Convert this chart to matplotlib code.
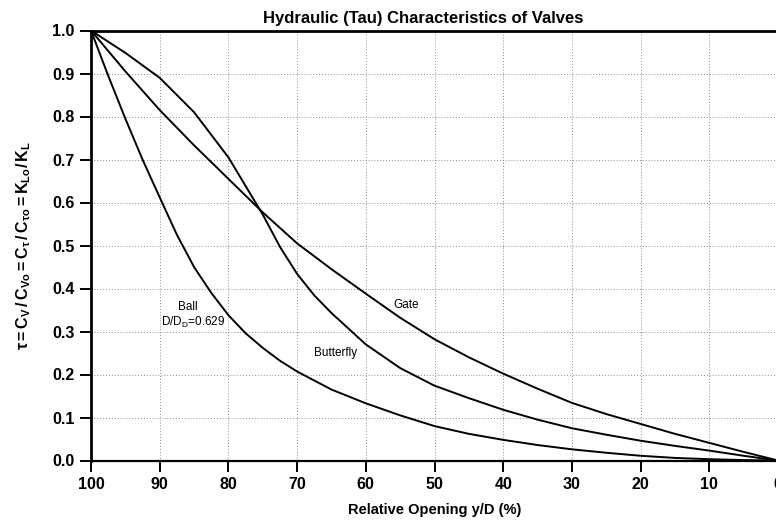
import matplotlib
matplotlib.use("Agg")
import matplotlib.pyplot as plt

plt.rcParams['font.family'] = ['Liberation Sans', 'DejaVu Sans']
plt.rcParams['mathtext.fontset'] = 'custom'
plt.rcParams['mathtext.rm'] = 'Liberation Sans'
plt.rcParams['mathtext.it'] = 'Liberation Sans'
plt.rcParams['mathtext.bf'] = 'Liberation Sans:bold'

# Relative opening y/D (%) and tau values for each valve type
opening_gate = [100, 95, 90, 85, 80, 75, 70, 65, 60, 55, 50, 45, 40, 35, 30, 25, 20, 15, 10, 5, 0]
tau_gate = [1.0, 0.905, 0.815, 0.733, 0.655, 0.577, 0.505, 0.445, 0.388, 0.332, 0.282, 0.24,
            0.202, 0.167, 0.134, 0.108, 0.085, 0.062, 0.041, 0.02, 0.0]

opening_butterfly = [100, 95, 90, 85, 80, 75, 72.5, 70, 67.5, 65, 60, 55, 50, 45, 40, 35, 30,
                     25, 20, 15, 10, 5, 0]
tau_butterfly = [1.0, 0.948, 0.89, 0.81, 0.705, 0.572, 0.497, 0.434, 0.384, 0.343, 0.27, 0.215,
                 0.174, 0.145, 0.118, 0.095, 0.075, 0.06, 0.046, 0.034, 0.023, 0.011, 0.0]

opening_ball = [100, 97.5, 95, 92.5, 90, 87.5, 85, 82.5, 80, 77.5, 75, 72.5, 70, 65, 60, 55,
                50, 45, 40, 35, 30, 25, 20, 15, 10, 5, 0]
tau_ball = [1.0, 0.895, 0.795, 0.70, 0.612, 0.525, 0.45, 0.39, 0.338, 0.296, 0.262, 0.232,
            0.207, 0.165, 0.133, 0.105, 0.08, 0.062, 0.048, 0.036, 0.026, 0.018, 0.011, 0.006,
            0.003, 0.001, 0.0]

x_ticks = [100, 90, 80, 70, 60, 50, 40, 30, 20, 10, 0]
y_ticks = [0.0, 0.1, 0.2, 0.3, 0.4, 0.5, 0.6, 0.7, 0.8, 0.9, 1.0]

fig = plt.figure(figsize=(7.76, 5.2), dpi=100)
ax = fig.add_axes([91 / 776, 1 - 460.5 / 520, 687 / 776, 430 / 520])

for xs, tau in ((opening_gate, tau_gate), (opening_butterfly, tau_butterfly),
                (opening_ball, tau_ball)):
    ax.plot(xs, tau, color='black', lw=1.4, solid_joinstyle='round', zorder=3)

ax.set_xlim(100, 0)
ax.set_ylim(0, 1.0)
ax.set_xticks(x_ticks)
ax.set_yticks(y_ticks)
ax.set_xticklabels([str(v) for v in x_ticks], fontweight='bold', fontsize=11.5)
ax.set_yticklabels([f"{v:.1f}" for v in y_ticks], fontweight='bold', fontsize=11.5)
ax.tick_params(direction='out', length=8, width=1.4, pad=4, colors='black')

ax.grid(True, color='0.55', linestyle=(0, (1, 2)), linewidth=0.7)
ax.set_axisbelow(True)

ax.spines['left'].set_linewidth(2.0)
ax.spines['top'].set_linewidth(2.0)
ax.spines['bottom'].set_linewidth(1.6)
ax.spines['right'].set_linewidth(1.0)

ax.set_xlabel('Relative Opening y/D (%)', fontweight='bold', fontsize=10.5, labelpad=8)
ax.set_ylabel(r'$\mathbf{\tau = C_V\,/\,C_{Vo} = C_\tau\,/\,C_{\tau o} = K_{Lo}/\,K_L}$',
              fontsize=11.5, labelpad=14)

fig.text(423 / 776, 1 - 18 / 520, 'Hydraulic (Tau) Characteristics of Valves',
         ha='center', va='center', fontweight='bold', fontsize=12)

ax.text(85.9, 0.358, 'Ball', ha='center', va='center', fontsize=8.5)
ax.text(85.1, 0.322, r'D/D$_\mathrm{D}$=0.629', ha='center', va='center', fontsize=8.5)
ax.text(64.4, 0.249, 'Butterfly', ha='center', va='center', fontsize=8.5)
ax.text(54.1, 0.362, 'Gate', ha='center', va='center', fontsize=8.5)

fig.savefig('out.png', dpi=100)
